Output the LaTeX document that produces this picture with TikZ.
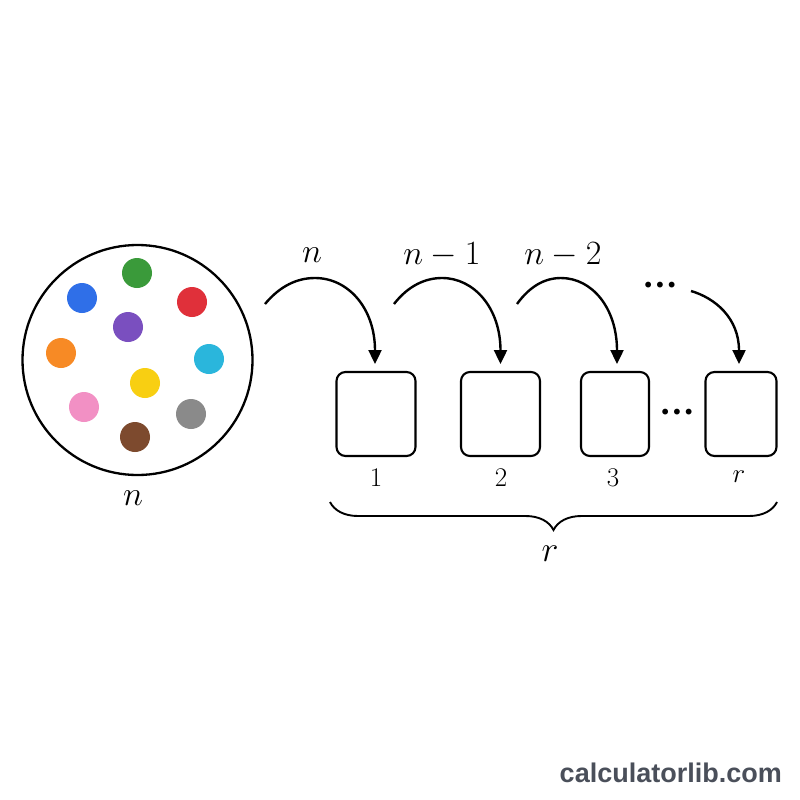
\documentclass[tikz,border=0pt]{standalone}
\usepackage{fix-cm}
\usepackage{fontspec}
\newfontfamily\wmfont{Liberation Sans}
\newfontfamily\dotfont{DejaVu Sans}
\usetikzlibrary{arrows.meta,decorations.pathreplacing}
\definecolor{cgreen}{HTML}{3A9A3A}
\definecolor{cblue}{HTML}{2F6FE8}
\definecolor{cred}{HTML}{E0303A}
\definecolor{cpurple}{HTML}{7A4FBF}
\definecolor{corange}{HTML}{F78A25}
\definecolor{ccyan}{HTML}{2AB6DC}
\definecolor{cyellow}{HTML}{F8CF12}
\definecolor{cpink}{HTML}{F290C4}
\definecolor{cgray}{HTML}{8A8A8A}
\definecolor{cbrown}{HTML}{7D4A2E}
\definecolor{wmgray}{HTML}{4A4F5A}
\tikzset{
  ball/.style={circle,inner sep=0pt,minimum size=30pt,draw=none},
  slot/.style={draw,line width=2.1pt,rounded corners=9pt,inner sep=0pt},
  jump/.style={line width=2.4pt,-{Triangle[length=14pt,width=13pt]}},
  biglab/.style={font=\fontsize{34}{40}\selectfont,inner sep=0pt},
  numlab/.style={font=\fontsize{27}{32}\selectfont,inner sep=0pt},
  dotlab/.style={font=\dotfont\fontsize{20}{24}\selectfont,inner sep=0pt},
}
\begin{document}
\begin{tikzpicture}[x=1pt,y=-1pt]
\useasboundingbox[fill=white] (0,0) rectangle (800,800);
% urn
\node[circle,draw,line width=2.3pt,minimum size=230pt,inner sep=0pt] (urn) at (137.5,360) {};
\node[ball,fill=cgreen]  (b1) at (137,273) {};
\node[ball,fill=cblue]   (b2) at (82,298) {};
\node[ball,fill=cred]    (b3) at (192,302) {};
\node[ball,fill=cpurple] (b4) at (128,327) {};
\node[ball,fill=corange] (b5) at (61,353) {};
\node[ball,fill=ccyan]   (b6) at (209,359) {};
\node[ball,fill=cyellow] (b7) at (145,383) {};
\node[ball,fill=cpink]   (b8) at (84,407) {};
\node[ball,fill=cgray]   (b9) at (191,414) {};
\node[ball,fill=cbrown]  (b10) at (135,437) {};
\node[biglab] (nlab) at (133,498) {$n$};
% slots
\node[slot,minimum width=79pt,minimum height=84pt] (s1) at (376,414) {};
\node[slot,minimum width=79pt,minimum height=84pt] (s2) at (500.5,414) {};
\node[slot,minimum width=68pt,minimum height=84pt] (s3) at (615,414) {};
\node[slot,minimum width=71pt,minimum height=84pt] (sr) at (741,414) {};
\node[dotlab] (gap) at (677,414) {•••};
\node[numlab] (l1) at (376,478) {$1$};
\node[numlab] (l2) at (501,478) {$2$};
\node[numlab] (l3) at (613,478) {$3$};
\node[numlab] (lr) at (739,477) {$r$};
% arrows
\coordinate (a1s) at (265,304);
\coordinate (a2s) at (394,304);
\coordinate (a3s) at (517,304);
\coordinate (a4s) at (691,291);
\coordinate (a1e) at (375,364);
\coordinate (a2e) at (500.5,364);
\coordinate (a3e) at (617,364);
\coordinate (a4e) at (739,364);
\draw[jump] (a1s) .. controls (280,286) and (297,278) .. (315,278)
  .. controls (348,278) and (375,308) .. (a1e);
\draw[jump] (a2s) .. controls (408,286) and (425,278) .. (442,278)
  .. controls (474,278) and (500.5,308) .. (a2e);
\draw[jump] (a3s) .. controls (530,286) and (545,278) .. (561,278)
  .. controls (592,278) and (617,308) .. (a3e);
\draw[jump] (a4s) .. controls (715,298) and (739,318) .. (a4e);
\node[biglab] (t1) at (312,255) {$n$};
\node[biglab] (t2) at (442,255) {$n-1$};
\node[biglab] (t3) at (563,255) {$n-2$};
\node[dotlab] (t4) at (660,287) {•••};
% brace
\coordinate (brl) at (330,502);
\coordinate (brr) at (777,502);
\draw[line width=1.9pt,decorate,decoration={brace,mirror,amplitude=28pt,raise=0pt}] (brl) -- (brr);
\node[biglab,font=\fontsize{36}{42}\selectfont] (rlab) at (550,554) {$r$};
% watermark
\node[font=\wmfont\bfseries\fontsize{27}{30}\selectfont,text=wmgray,anchor=east,inner sep=0pt] (wm) at (782,773) {calculatorlib.com};
\end{tikzpicture}
\end{document}
